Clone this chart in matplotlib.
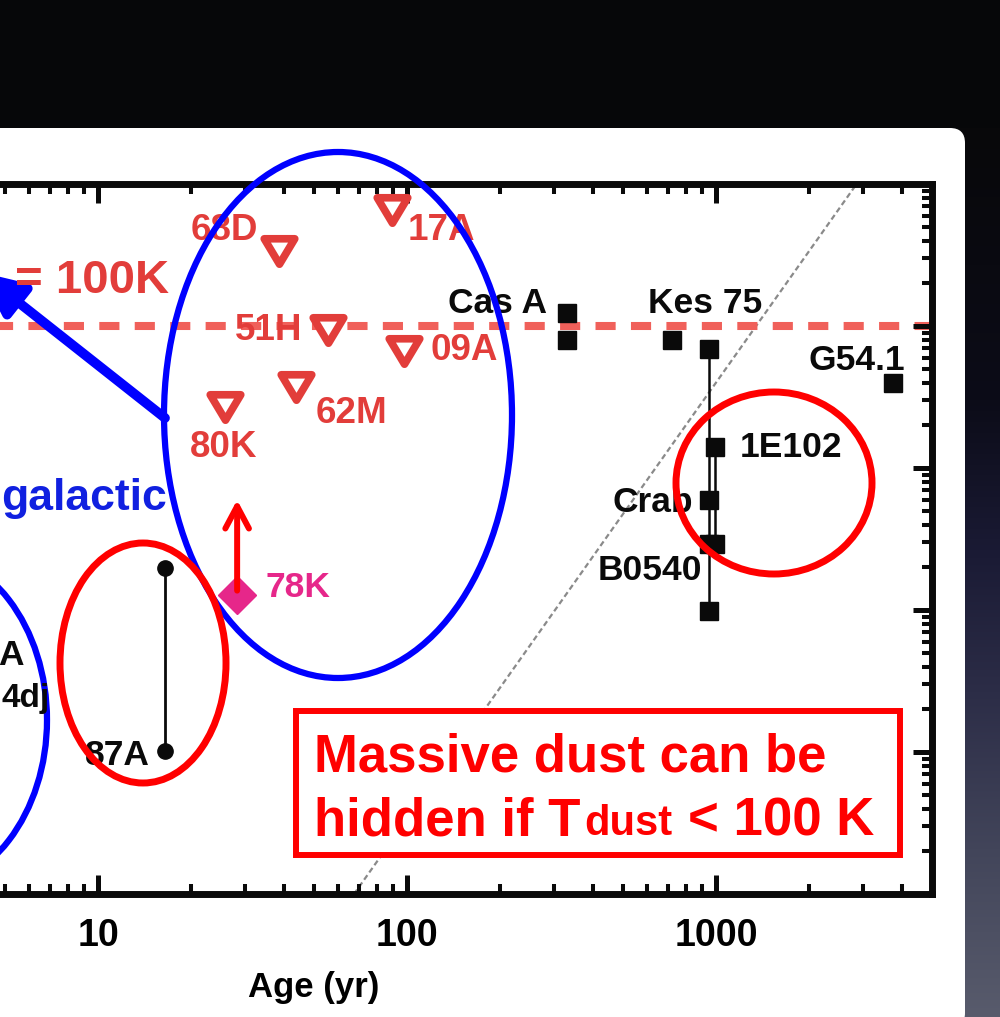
import numpy as np
import matplotlib
matplotlib.use('Agg')
import matplotlib.pyplot as plt
from matplotlib.patches import Ellipse, Rectangle, FancyBboxPatch, FancyArrowPatch, ArrowStyle
from matplotlib.markers import MarkerStyle
from matplotlib.path import Path
from matplotlib.ticker import FuncFormatter, NullFormatter

plt.rcParams['font.family'] = ['Liberation Sans', 'DejaVu Sans']
plt.rcParams['font.weight'] = 'bold'

# ==========================================
# DATA (age in yr, dust mass)
# ==========================================
lim_names = ['17A', '68D', '51H', '09A', '62M', '80K']
lim_age = [89.3, 38.5, 55.5, 97.8, 43.8, 25.8]
lim_mass = [6.61, 3.35, 0.937, 0.672, 0.369, 0.271]

k78_age = [28.2]
k78_mass = [0.0128]
k78_lower_to = 0.0596

sn87a_age = [16.5, 16.5]
sn87a_mass = [0.0198, 0.00102]

casa_age = [330, 330]
casa_mass = [1.235, 0.797]
kes75_age = [721]
kes75_mass = [0.797]
crab_age = [948, 948, 948, 948]
crab_mass = [0.689, 0.0596, 0.0292, 0.00984]
e0102_age = [993, 993]
e0102_mass = [0.141, 0.0292]
g54_age = [3741]
g54_mass = [0.397]

t100_mass = 1.0
guide_age = [60, 3000]
guide_mass = [7e-5, 11.7]

x_ticks = [10, 100, 1000]

# colours
RED_LBL = '#e23d3a'
RED_DASH = '#f0605a'
MAGENTA = '#e6278a'
BLUE = '#0000ff'
INK = '#0a0a0a'

W, H = 1000, 1017


def fx(x):
    return x / W


def fy(y):
    return 1 - y / H


fig = plt.figure(figsize=(10, 10.17), dpi=100, facecolor='#060709')

# ---------- background: slide panel + dark strip ----------
bg = fig.add_axes([0, 0, 1, 1], zorder=-5)
bg.set_xlim(0, W)
bg.set_ylim(H, 0)
bg.axis('off')
stops_y = [128, 400, 550, 700, 850, 1017]
stops_c = np.array([[8, 8, 10], [12, 12, 24], [26, 26, 52], [45, 46, 72],
                    [66, 69, 90], [88, 91, 108]]) / 255.0
yy = np.linspace(128, 1017, 300)
grad = np.stack([np.interp(yy, stops_y, stops_c[:, i]) for i in range(3)], axis=-1)[:, None, :]
bg.imshow(grad, extent=(930, 1000, 1017, 128), aspect='auto', interpolation='bilinear')
bg.add_patch(FancyBboxPatch((-40, 128), 1005, 900, boxstyle='round,pad=0,rounding_size=15',
                            fc='white', ec='none'))

# ---------- main axes ----------
ax = fig.add_axes([-0.211, 0.12094, 1.143, 0.69813])
ax.set_facecolor('white')
ax.set_xscale('log')
ax.set_yscale('log')
ax.set_xlim(1, 5000)
ax.set_ylim(1e-4, 10)

for s in ['top', 'bottom', 'right']:
    ax.spines[s].set_linewidth(5)
    ax.spines[s].set_color(INK)
ax.spines['left'].set_visible(False)

ax.set_xticks(x_ticks)
ax.xaxis.set_major_formatter(FuncFormatter(lambda v, _: f'{v:g}'))
ax.xaxis.set_minor_formatter(NullFormatter())
ax.tick_params(which='both', direction='in', top=True, right=True, left=False,
               labelleft=False, color=INK)
ax.tick_params(which='major', length=14, width=3.6, labelsize=27, pad=17)
ax.tick_params(which='minor', length=7, width=2.9)

ax.set_xlabel('Age (yr)', fontsize=25, fontweight='bold', va='baseline')
ax.xaxis.set_label_coords((314 + 211) / 1143, (894 - 997) / 710)

# guide line and T = 100K level
ax.plot(guide_age, guide_mass, color='#8a8a8a', lw=1.6, linestyle=(0, (2.5, 1.5)), zorder=1)
ax.axhline(t100_mass, color=RED_DASH, lw=5.8, linestyle=(0.75, (2.5, 1.9)), zorder=1.5)

# upper limits (open inverted triangles)
tri_path = Path([(-1, 0.833), (1, 0.833), (0, -0.833), (0, 0)], closed=True)
tri = MarkerStyle(tri_path, joinstyle='miter')
ax.plot(lim_age, lim_mass, ls='none', marker=tri, ms=22, mfc='white', mec=RED_LBL, mew=5.5, zorder=4)

# SN 1978K lower limit
ax.plot(k78_age, k78_mass, ls='none', marker='D', ms=19, color=MAGENTA, zorder=4)
ax.annotate('', xy=(k78_age[0], k78_lower_to), xytext=(k78_age[0], k78_mass[0]),
            arrowprops=dict(arrowstyle=ArrowStyle('->', head_length=16, head_width=8.5),
                            mutation_scale=1, color='red', lw=4.3, shrinkA=3, shrinkB=0),
            zorder=5)

# SN 1987A
ax.plot(sn87a_age, sn87a_mass, '-o', color=INK, lw=2, ms=11, zorder=4)

# Galactic remnants
sq = dict(marker='s', ms=13.5, color=INK, lw=1.8, zorder=4)
ax.plot(casa_age, casa_mass, ls='none', **sq)
ax.plot(kes75_age, kes75_mass, ls='none', **sq)
ax.plot(crab_age, crab_mass, ls='-', **sq)
ax.plot(e0102_age, e0102_mass, ls='-', **sq)
ax.plot(g54_age, g54_mass, ls='none', **sq)

# labels: (text, age, mass, dx px, baseline dy px (down), ha, colour)
labels = [
    ('17A', lim_age[0], lim_mass[0], 16, 30.5, 'left', RED_LBL),
    ('68D', lim_age[1], lim_mass[1], -21, -11.5, 'right', RED_LBL),
    ('51H', lim_age[2], lim_mass[2], -26, 10, 'right', RED_LBL),
    ('09A', lim_age[3], lim_mass[3], 26, 9.5, 'left', RED_LBL),
    ('62M', lim_age[4], lim_mass[4], 19, 35.5, 'left', RED_LBL),
    ('80K', lim_age[5], lim_mass[5], -1.5, 50.5, 'center', RED_LBL),
    ('78K', k78_age[0], k78_mass[0], 28, 2, 'left', MAGENTA),
    ('Cas A', casa_age[0], casa_mass[0], -20, 0, 'right', INK),
    ('Kes 75', kes75_age[0], kes75_mass[0], -24, -27, 'left', INK),
    ('G54.1', g54_age[0], g54_mass[0], 12, -13, 'right', INK),
    ('1E102', e0102_age[0], e0102_mass[0], 25, 10, 'left', INK),
    ('Crab', crab_age[1], crab_mass[1], -16, 12, 'right', INK),
    ('B0540', crab_age[2], crab_mass[2], -7, 36, 'right', INK),
    ('87A', sn87a_age[1], sn87a_mass[1], -15, 14, 'right', INK),
]
for txt, a, m, dx, dy, ha, c in labels:
    size = 26.5 if c == RED_LBL else 25.5
    ax.annotate(txt, (a, m), xytext=(dx * 0.72, -dy * 0.72), textcoords='offset points',
                ha=ha, va='baseline', fontsize=size, fontweight='bold', color=c, zorder=6)

# ---------- slide overlays ----------
fig.text(fx(15), fy(293), '= 100K', color=RED_LBL, fontsize=34, fontweight='bold', va='baseline')
fig.text(fx(167), fy(510), 'galactic', color='#1020e0', fontsize=32, fontweight='bold',
         ha='right', va='baseline')
fig.text(fx(24), fy(665), 'A', color=INK, fontsize=25.5, fontweight='bold', ha='right', va='baseline')
fig.text(fx(50), fy(707), '4dj', color=INK, fontsize=24, fontweight='bold', ha='right', va='baseline')

ellipses = [  # cx, cy, rx, ry (px), colour, lw
    (338, 415, 174, 263, BLUE, 4.5),
    (-83, 720, 130, 170, BLUE, 4.5),
    (143, 663, 83, 120, 'red', 5),
    (774, 483, 98, 91, 'red', 5),
]
for cx, cy, rx, ry, c, lw in ellipses:
    fig.add_artist(Ellipse((fx(cx), fy(cy)), 2 * rx / W, 2 * ry / H, transform=fig.transFigure,
                           fill=False, ec=c, lw=lw, zorder=2))

fig.add_artist(FancyArrowPatch((fx(165), fy(418)), (fx(-20), fy(272)), transform=fig.transFigure,
                               arrowstyle=ArrowStyle('-|>', head_length=26, head_width=12),
                               mutation_scale=1, lw=7, color=BLUE, shrinkA=0, shrinkB=0, zorder=2))

fig.add_artist(Rectangle((fx(296), fy(855)), (900 - 296) / W, (855 - 711) / H, transform=fig.transFigure,
                         fc='white', ec='red', lw=4.3, zorder=2))
box_kw = dict(color='red', fontweight='bold', va='baseline', zorder=3)
fig.text(fx(314), fy(772), 'Massive dust can be', fontsize=38, **box_kw)
fig.text(fx(314), fy(835), 'hidden if T', fontsize=38, **box_kw)
fig.text(fx(584), fy(835), 'dust', fontsize=30, **box_kw)
fig.text(fx(688), fy(835), '< 100 K', fontsize=38, **box_kw)

fig.savefig('out.png', dpi=100, facecolor=fig.get_facecolor())
